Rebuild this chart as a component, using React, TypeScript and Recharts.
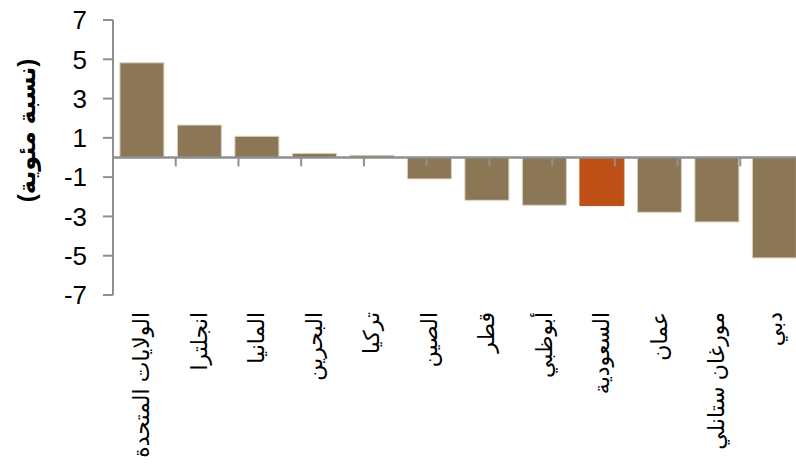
import React from 'react';
import { BarChart, Bar, XAxis, YAxis, Cell, ReferenceLine } from 'recharts';

const categories = [
  'الولايات المتحدة',
  'انجلترا',
  'المانيا',
  'البحرين',
  'تركيا',
  'الصين',
  'قطر',
  'أبوظبي',
  'السعودية',
  'عمان',
  'مورغان ستانلي',
  'دبي',
];
const values = [4.82, 1.65, 1.08, 0.21, 0.11, -1.09, -2.18, -2.43, -2.45, -2.79, -3.28, -5.11];
const highlighted = 'السعودية';
const yTicks = [-7, -5, -3, -1, 1, 3, 5, 7];
const yLabel = '(نسبة مئوية)';
const boundaries = [1, 2, 3, 4, 5, 6, 7, 8, 9, 10, 11, 12];

const data = categories.map((name, i) => ({ name, value: values[i] }));

const BROWN = '#8b7756';
const ORANGE = '#be4f17';
const AXIS = '#8f8f8f';
const FONT = '"Liberation Sans", Arial, "DejaVu Sans", sans-serif';

const XTick = (props: any) => {
  const { x, y, payload } = props;
  return (
    <g transform={`translate(${x},${y})`}>
      <text
        transform="rotate(-90)"
        x={0}
        y={0}
        dy="0.35em"
        textAnchor="end"
        fontSize={22}
        fontFamily={FONT}
        fill="#000"
      >
        {payload.value}
      </text>
    </g>
  );
};

const YLabel = (props: any) => {
  const { viewBox } = props;
  const cx = viewBox.x + 26;
  const cy = viewBox.y + viewBox.height / 2 - 27;
  return (
    <text
      x={cx}
      y={cy}
      transform={`rotate(-90, ${cx}, ${cy})`}
      textAnchor="middle"
      dominantBaseline="central"
      fontSize={24}
      fontWeight="bold"
      fontFamily={FONT}
      fill="#000"
    >
      {yLabel}
    </text>
  );
};

export default function App() {
  return (
    <div
      style={{
        position: 'absolute',
        left: 0,
        top: 0,
        width: 796,
        height: 465,
        overflow: 'hidden',
        background: '#fff',
      }}
    >
      <BarChart
        width={803}
        height={465}
        data={data}
        margin={{ top: 20, right: 0, bottom: 0, left: 0 }}
        barCategoryGap="12%"
      >
        <XAxis
          dataKey="name"
          height={170}
          axisLine={false}
          tickLine={false}
          tickSize={0}
          tickMargin={17}
          interval={0}
          tick={<XTick />}
        />
        <XAxis xAxisId="n" type="number" domain={[0, 12]} hide />
        <YAxis
          width={113}
          domain={[-7, 7]}
          ticks={yTicks}
          interval={0}
          axisLine={{ stroke: AXIS, strokeWidth: 2 }}
          tickLine={{ stroke: AXIS, strokeWidth: 2 }}
          tickSize={10}
          tickMargin={16}
          tick={{ fontSize: 26, fill: '#000', fontFamily: FONT }}
          label={<YLabel />}
        />
        <Bar dataKey="value" stroke="#dcd2bd" strokeWidth={1} isAnimationActive={false}>
          {data.map((d) => (
            <Cell
              key={d.name}
              fill={d.name === highlighted ? ORANGE : BROWN}
              stroke={d.name === highlighted ? ORANGE : '#dcd2bd'}
            />
          ))}
        </Bar>
        <ReferenceLine y={0} stroke={AXIS} strokeWidth={2.5} />
        {boundaries.map((b) => (
          <ReferenceLine
            key={b}
            xAxisId="n"
            segment={[
              { x: b, y: 0 },
              { x: b, y: -0.45 },
            ]}
            stroke={AXIS}
            strokeWidth={2}
          />
        ))}
      </BarChart>
    </div>
  );
}
